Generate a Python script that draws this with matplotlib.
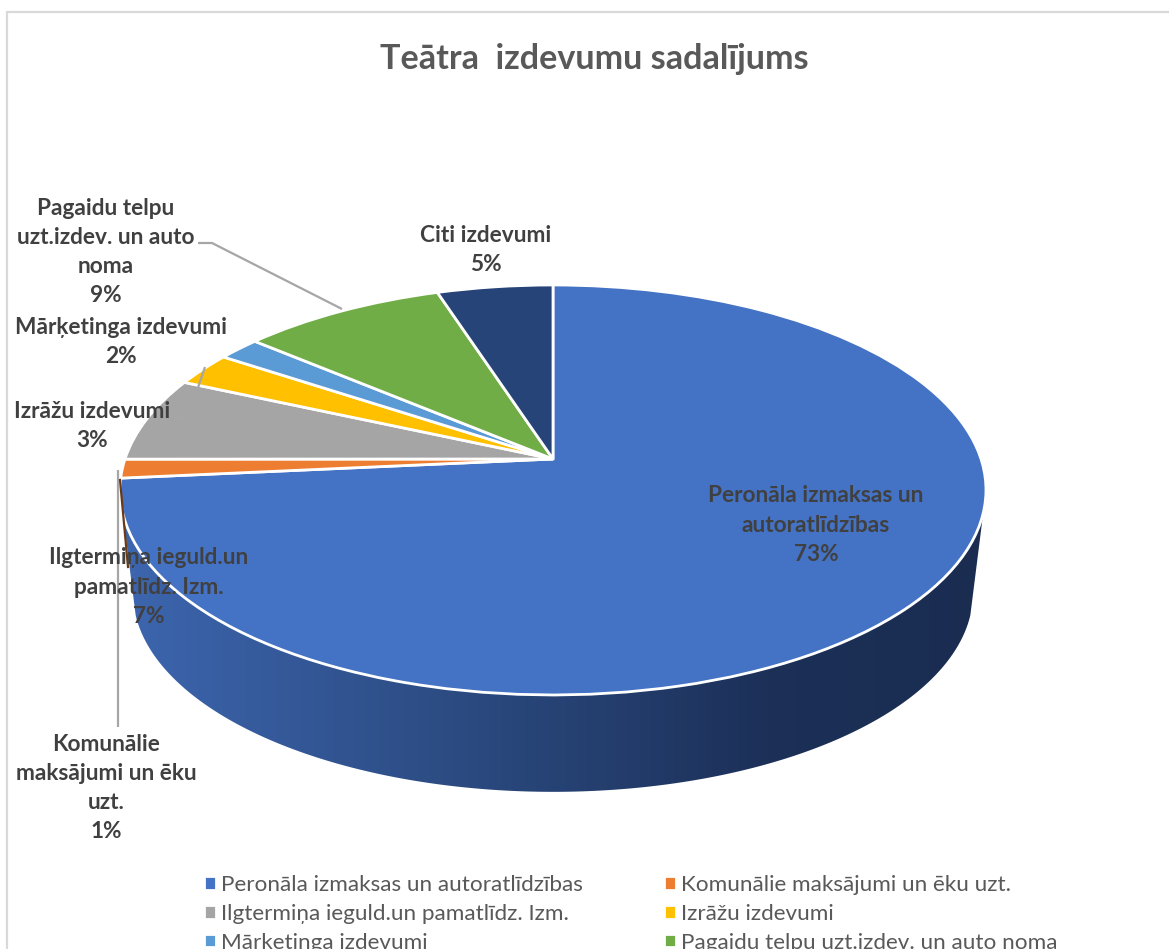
import numpy as np
import matplotlib
matplotlib.use("Agg")
import matplotlib.pyplot as plt
from matplotlib.colors import LinearSegmentedColormap
from matplotlib.patches import Polygon
from matplotlib.transforms import Transform

categories = ["Peronāla izmaksas un autoratlīdzības", "Komunālie maksājumi un ēku uzt.",
              "Ilgtermiņa ieguld.un pamatlīdz. Izm.", "Izrāžu izdevumi", "Mārķetinga izdevumi",
              "Pagaidu telpu uzt.izdev. un auto noma", "Citi izdevumi"]
label_text = ["Peronāla izmaksas un\nautoratlīdzības", "Komunālie\nmaksājumi un ēku\nuzt.",
              "Ilgtermiņa ieguld.un\npamatlīdz. Izm.", "Izrāžu izdevumi", "Mārķetinga izdevumi",
              "Pagaidu telpu\nuzt.izdev. un auto\nnoma", "Citi izdevumi"]
values = [73.5, 1.49, 6.66, 2.65, 1.85, 8.85, 5.0]
percent_labels = ["73%", "1%", "7%", "3%", "2%", "9%", "5%"]
colors = ["#4472C4", "#ED7D31", "#A5A5A5", "#FFC000", "#5B9BD5", "#70AD47", "#264478"]
label_pos = [(816, 525), (106, 788), (149, 587), (92, 426), (121, 342), (106, 252), (486, 250)]

FONT = ["Lato", "Open Sans", "DejaVu Sans"]
plt.rcParams["font.family"] = FONT

CX, CY, A, B, K = 553.0, 459.0, 200.3, 428.0, 0.151
DEPTH_SCALE, DEPTH_SHIFT = 0.97, 104.0


class Perspective(Transform):
    input_dims = output_dims = 2
    is_separable = False
    has_inverse = False

    def __init__(self, scale=1.0, shift=0.0):
        super().__init__()
        self.scale, self.shift = scale, shift

    def transform_non_affine(self, xy):
        xy = np.asarray(xy, float)
        w = 1 + K * xy[:, 1]
        return np.column_stack((CX + self.scale * B * xy[:, 0] / w,
                                CY + self.shift - self.scale * A * xy[:, 1] / w))


fig = plt.figure(figsize=(11.69, 9.49), dpi=100, facecolor="white")
ax = fig.add_axes([0, 0, 1, 1])
wedges, _ = ax.pie(values, colors=colors, startangle=90, counterclock=False, radius=1,
                   wedgeprops=dict(edgecolor="white", linewidth=2.0, zorder=3))
top = Perspective() + ax.transData
for w in wedges:
    w.set_transform(top)
ax.set_aspect("auto")
ax.set_xlim(0, 1169)
ax.set_ylim(949, 0)
ax.axis("off")

# rim of the pie's cylinder wall
t = np.radians(np.linspace(105, 255, 200))
rim = np.column_stack((np.sin(t), np.cos(t)))
upper = Perspective().transform(rim)
lower = Perspective(DEPTH_SCALE, DEPTH_SHIFT).transform(rim)
wall = Polygon(np.vstack((upper, lower[::-1])), closed=True, facecolor="none", edgecolor="none",
               transform=ax.transData)
ax.add_patch(wall)
cmap = LinearSegmentedColormap.from_list("wall", [(0, "#1A2C50"), (0.25, "#1C3058"), (0.6, "#2B4A80"), (1, "#3D66AF")])
img = ax.imshow(np.linspace(0, 1, 256)[None, :], cmap=cmap, extent=(985, 120, 800, 480),
                aspect="auto", zorder=2, interpolation="bilinear")
img.set_clip_path(wall)
ax.set_xlim(0, 1169)
ax.set_ylim(949, 0)

# chart border
ax.plot([7, 7, 1169], [949, 12, 12], color="#D9D9D9", lw=1.6, zorder=1, solid_joinstyle="miter")

# leader lines
lead = dict(color="#A6A6A6", lw=1.6, zorder=4, solid_capstyle="butt")
ax.plot([198, 212, 342], [243, 243, 309], **lead)
ax.plot([175, 188, 205], [417, 417, 367], **lead)
ax.plot([118, 118], [470, 727], **lead)
ax.plot([120, 128], [480, 567], color="#6B3A14", lw=1.6, zorder=5)

# data labels
for name, pct, (x, y) in zip(label_text, percent_labels, label_pos):
    ax.text(x, y, f"{name}\n{pct}", ha="center", va="center", fontsize=16.3, fontweight="bold",
            color="#404040", linespacing=1.49, zorder=6, family=FONT)

ax.text(594, 59, "Teātra  izdevumu sadalījums", ha="center", va="center", fontsize=24.6,
        fontweight="bold", color="#595959", family=FONT, zorder=6)

order = [0, 2, 4, 1, 3, 5]
leg = ax.legend([wedges[i] for i in order], [categories[i] for i in order], ncol=2, frameon=False,
                loc="upper left", bbox_to_anchor=(204, 875), bbox_transform=ax.transData,
                fontsize=16.2, labelcolor="#595959", handlelength=0.55, handleheight=0.55,
                handletextpad=0.19, columnspacing=3.62, labelspacing=0.39, borderpad=0, borderaxespad=0)

fig.savefig("out.png", dpi=100, facecolor="white")
